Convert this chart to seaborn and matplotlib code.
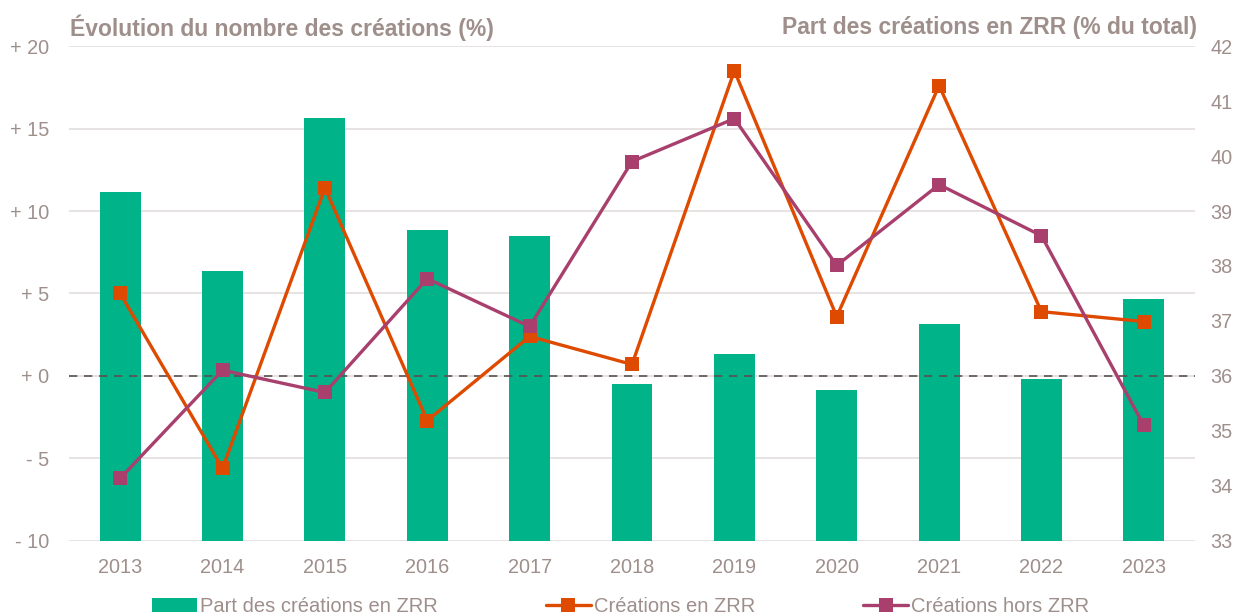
import numpy as np
import pandas as pd
import matplotlib
matplotlib.use("Agg")
import matplotlib.pyplot as plt
from matplotlib.ticker import FuncFormatter
from matplotlib.lines import Line2D
from matplotlib.patches import Patch
import seaborn as sns

# Data
years = ["2013", "2014", "2015", "2016", "2017", "2018", "2019", "2020", "2021", "2022", "2023"]
part_zrr = [39.35, 37.9, 40.7, 38.65, 38.55, 35.85, 36.4, 35.75, 36.95, 35.95, 37.4]
creations_zrr = [5.0, -5.6, 11.4, -2.7, 2.4, 0.7, 18.5, 3.6, 17.6, 3.9, 3.3]
creations_hors_zrr = [-6.2, 0.35, -1.0, 5.9, 3.0, 13.0, 15.6, 6.7, 11.6, 8.5, -3.0]

green = "#00B388"
orange = "#DE4A00"
purple = "#A83F6D"
text_col = "#9E8F8B"
grid_col = "#E2DEDD"

sns.set_theme(style="white")
plt.rcParams["font.family"] = ["Liberation Sans", "DejaVu Sans"]

fig = plt.figure(figsize=(12.39, 6.16), dpi=100)
ax = fig.add_axes([0.0557, 0.1218, 0.9088, 0.8035])  # left scale + grid
ax_bar = ax.twinx()   # right scale, bars
ax_line = ax.twinx()  # lines, left scale

df = pd.DataFrame({"year": years, "part": part_zrr})
sns.barplot(data=df, x="year", y="part", color=green, width=0.4,
            saturation=1, ax=ax_bar)
for p in ax_bar.patches:
    p.set_linewidth(0)
ax_bar.set_ylim(33, 42)
ax_bar.set_yticks(range(33, 43))

pos = np.arange(len(years))
sns.lineplot(x=pos, y=creations_zrr, color=orange, marker="s", markersize=10,
             markeredgewidth=0, linewidth=2.4, ax=ax_line)
sns.lineplot(x=pos, y=creations_hors_zrr, color=purple, marker="s", markersize=10,
             markeredgewidth=0, linewidth=2.4, ax=ax_line)
ax_line.axhline(0, color="#5A5050", linestyle=(0, (5, 4)), linewidth=1.2, zorder=1)

for a in (ax, ax_line):
    a.set_ylim(-10, 20)
    a.set_yticks(range(-10, 21, 5))
ax_line.tick_params(axis="y", labelleft=False, labelright=False)
ax.set_xlim(-0.5, len(years) - 0.5)

ax.yaxis.grid(True, color=grid_col, linewidth=1.2)
ax.xaxis.grid(False)
ax_bar.grid(False)
ax_line.grid(False)
ax.yaxis.set_major_formatter(FuncFormatter(lambda v, _: f"+ {v:.0f}" if v >= 0 else f"- {abs(v):.0f}"))

for a in (ax, ax_bar, ax_line):
    for s in a.spines.values():
        s.set_visible(False)
    a.set_xlabel("")
    a.set_ylabel("")
    a.tick_params(length=0, colors=text_col, labelsize=14.3)

ax.set_xticks(pos)
ax.set_xticklabels(years)
ax.tick_params(axis="y", pad=14)
ax.tick_params(axis="x", pad=12)
ax_bar.tick_params(axis="y", pad=11)

fig.text(0.0565, 0.955, "Évolution du nombre des créations (%)", color=text_col,
         fontsize=16.5, fontweight="bold", ha="left", va="center")
fig.text(0.966, 0.955, "Part des créations en ZRR (% du total)", color=text_col,
         fontsize=16.5, fontweight="bold", ha="right", va="center")

handles = [
    Patch(facecolor=green, edgecolor="none"),
    Line2D([], [], color=orange, marker="s", markersize=10, linewidth=2.4, markeredgewidth=0),
    Line2D([], [], color=purple, marker="s", markersize=10, linewidth=2.4, markeredgewidth=0),
]
labels = ["Part des créations en ZRR", "Créations en ZRR", "Créations hors ZRR"]
leg = fig.legend(handles, labels, loc="center", bbox_to_anchor=(0.501, 0.015), ncol=3,
                 frameon=False, fontsize=14.5, handlelength=2.25, handletextpad=0.15,
                 columnspacing=5.35, labelcolor=text_col)

fig.savefig("out.png", dpi=100)
